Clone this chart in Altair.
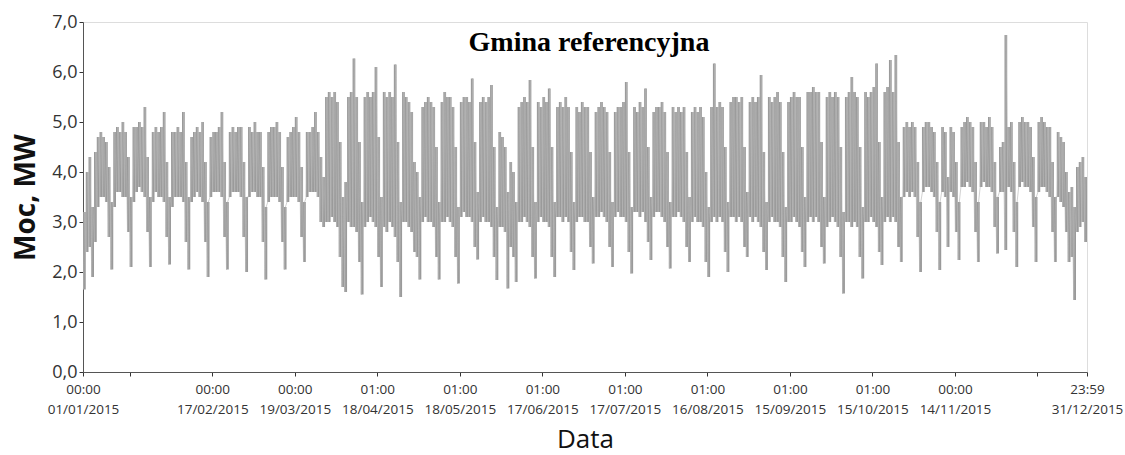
import altair as alt
import pandas as pd

# Daily peak (day-time maximum) load, MW, one row per week Mon..Sun
# (first row: Thu 1 Jan .. Sun 4 Jan, last row: Mon 28 Dec .. Thu 31 Dec)
HI_WEEKS = [
    [3.2, 4.0, 4.3, 3.3],
    [4.4, 4.7, 4.8, 4.7, 4.6, 4.1, 3.4],
    [4.8, 4.9, 4.8, 5.0, 4.8, 4.3, 3.5],
    [4.9, 4.9, 5.0, 4.9, 5.3, 4.3, 3.5],
    [4.8, 4.9, 4.8, 4.9, 5.2, 4.2, 3.5],
    [4.8, 4.8, 4.9, 4.8, 5.2, 4.2, 3.5],
    [4.7, 4.8, 4.9, 4.8, 5.0, 4.2, 3.4],
    [4.7, 4.8, 4.8, 4.9, 5.2, 4.2, 3.4],
    [4.8, 4.9, 4.8, 4.9, 4.9, 4.2, 3.5],
    [4.9, 4.8, 5.0, 4.8, 4.8, 4.1, 3.3],
    [4.8, 4.9, 4.9, 5.0, 4.8, 4.1, 3.3],
    [4.7, 4.8, 4.9, 5.1, 4.8, 4.1, 3.4],
    [4.8, 4.8, 4.9, 5.2, 4.8, 4.3, 3.9],
    [5.5, 5.6, 5.5, 5.6, 5.4, 4.6, 3.5],
    [3.8, 5.5, 5.6, 6.27, 5.5, 4.6, 3.4],
    [5.5, 5.6, 5.5, 5.6, 6.1, 4.7, 3.5],
    [5.6, 5.5, 5.6, 5.5, 6.15, 4.6, 3.4],
    [5.6, 5.5, 5.4, 5.2, 4.2, 4.0, 3.5],
    [5.3, 5.4, 5.5, 5.4, 5.3, 4.5, 3.4],
    [5.4, 5.6, 5.5, 5.5, 5.3, 4.5, 3.3],
    [5.4, 5.5, 5.5, 5.4, 5.87, 4.6, 3.6],
    [5.4, 5.5, 5.4, 5.5, 5.74, 4.5, 3.3],
    [4.8, 4.7, 4.5, 3.6, 4.2, 4.0, 3.4],
    [5.3, 5.4, 5.5, 5.4, 5.84, 4.5, 3.4],
    [5.4, 5.3, 5.5, 5.4, 5.67, 4.5, 3.4],
    [5.3, 5.4, 5.3, 5.5, 5.3, 4.4, 3.4],
    [5.3, 5.2, 5.4, 5.3, 5.3, 4.4, 3.5],
    [5.2, 5.3, 5.4, 5.3, 5.2, 4.4, 3.4],
    [5.2, 5.3, 5.3, 5.4, 5.8, 4.4, 3.3],
    [5.3, 5.2, 5.4, 5.3, 5.67, 4.5, 3.5],
    [5.2, 5.3, 5.3, 5.4, 5.2, 4.4, 3.4],
    [5.3, 5.2, 5.3, 5.2, 5.3, 4.4, 3.5],
    [5.2, 5.3, 5.2, 5.3, 5.1, 4.0, 3.3],
    [5.3, 6.17, 5.3, 5.4, 5.3, 4.5, 3.4],
    [5.4, 5.5, 5.5, 5.4, 5.5, 4.5, 3.6],
    [5.4, 5.5, 5.4, 5.5, 5.94, 4.4, 3.4],
    [5.5, 5.4, 5.5, 5.6, 5.4, 4.4, 3.3],
    [5.4, 5.5, 5.6, 5.5, 5.5, 4.5, 3.5],
    [5.6, 5.6, 5.7, 5.6, 5.6, 4.6, 3.5],
    [5.5, 5.6, 5.5, 5.6, 5.5, 4.5, 3.2],
    [5.5, 5.6, 5.9, 5.6, 5.5, 4.5, 3.3],
    [5.6, 5.5, 5.6, 5.7, 6.17, 4.6, 3.5],
    [5.6, 5.7, 6.24, 5.6, 6.34, 4.6, 3.5],
    [4.9, 5.0, 4.9, 5.0, 4.9, 4.2, 3.4],
    [4.9, 5.0, 5.0, 4.9, 4.8, 4.2, 3.4],
    [4.9, 4.8, 3.9, 4.9, 4.8, 4.2, 3.4],
    [4.9, 5.0, 5.1, 5.0, 4.9, 4.2, 3.4],
    [5.0, 5.0, 4.9, 5.1, 4.9, 4.2, 3.5],
    [4.5, 4.6, 6.74, 4.9, 5.0, 4.2, 3.4],
    [5.0, 5.1, 5.0, 5.0, 4.9, 4.3, 3.5],
    [5.0, 5.1, 5.0, 4.9, 4.9, 4.2, 3.5],
    [4.8, 4.7, 4.6, 4.0, 3.6, 3.7, 3.3],
    [4.1, 4.2, 4.3, 3.9],
]

# Daily night-time minimum load, MW, same layout
LO_WEEKS = [
    [1.65, 2.4, 2.5, 1.9],
    [2.6, 3.3, 3.5, 3.5, 3.4, 2.7, 2.05],
    [3.3, 3.6, 3.6, 3.5, 3.5, 2.8, 2.1],
    [3.4, 3.6, 3.7, 3.6, 3.5, 2.8, 2.1],
    [3.4, 3.6, 3.5, 3.5, 3.4, 2.7, 2.15],
    [3.3, 3.5, 3.5, 3.5, 3.4, 2.6, 2.05],
    [3.4, 3.5, 3.6, 3.5, 3.4, 2.6, 1.9],
    [3.5, 3.6, 3.6, 3.6, 3.5, 2.7, 2.05],
    [3.5, 3.6, 3.6, 3.6, 3.5, 2.7, 2.0],
    [3.5, 3.6, 3.6, 3.5, 3.5, 2.6, 1.85],
    [3.4, 3.5, 3.5, 3.5, 3.4, 2.6, 2.05],
    [3.4, 3.5, 3.5, 3.5, 3.4, 2.7, 2.2],
    [3.5, 3.6, 3.6, 3.6, 3.5, 3.0, 2.9],
    [3.0, 3.0, 3.1, 3.0, 2.9, 2.3, 1.7],
    [1.6, 3.0, 2.9, 2.9, 2.8, 2.2, 1.55],
    [2.9, 3.0, 3.1, 3.0, 2.9, 2.3, 1.7],
    [2.9, 2.8, 3.0, 2.9, 2.7, 2.2, 1.5],
    [3.0, 3.0, 2.9, 2.8, 2.4, 2.3, 1.85],
    [3.0, 3.1, 3.0, 3.0, 2.9, 2.3, 1.85],
    [3.0, 3.0, 3.1, 3.0, 2.9, 2.3, 1.77],
    [3.1, 3.2, 3.1, 3.1, 3.0, 2.5, 2.25],
    [3.0, 3.1, 3.0, 3.0, 2.9, 2.3, 1.84],
    [2.9, 2.9, 2.8, 1.67, 2.5, 2.3, 1.8],
    [3.0, 3.0, 3.1, 3.0, 2.9, 2.3, 1.87],
    [3.0, 3.1, 3.0, 3.0, 2.9, 2.3, 1.9],
    [3.1, 3.1, 3.0, 3.1, 3.0, 2.4, 2.04],
    [3.0, 3.1, 3.1, 3.0, 3.0, 2.5, 2.17],
    [3.1, 3.1, 3.2, 3.1, 3.0, 2.5, 2.1],
    [3.1, 3.2, 3.1, 3.1, 3.0, 2.4, 1.97],
    [3.2, 3.2, 3.1, 3.2, 3.0, 2.6, 2.24],
    [3.1, 3.2, 3.2, 3.1, 3.0, 2.5, 2.07],
    [3.1, 3.1, 3.2, 3.1, 3.0, 2.5, 2.2],
    [3.0, 3.1, 3.0, 3.0, 2.9, 2.2, 1.9],
    [3.0, 3.1, 3.0, 3.1, 3.0, 2.4, 2.0],
    [3.1, 3.1, 3.0, 3.1, 3.0, 2.5, 2.3],
    [3.1, 3.0, 3.1, 3.0, 2.9, 2.4, 2.04],
    [3.0, 3.1, 3.0, 3.0, 2.9, 2.3, 1.8],
    [3.0, 3.0, 3.1, 3.0, 2.9, 2.4, 2.1],
    [3.0, 3.1, 3.0, 3.1, 3.0, 2.5, 2.17],
    [2.9, 3.0, 3.1, 3.0, 2.9, 2.3, 1.57],
    [3.0, 3.0, 2.9, 3.0, 2.9, 2.3, 1.87],
    [3.0, 3.0, 3.1, 3.0, 2.9, 2.4, 2.14],
    [3.0, 3.1, 3.0, 3.1, 3.0, 2.5, 2.2],
    [3.5, 3.6, 3.5, 3.6, 3.5, 2.7, 2.0],
    [3.6, 3.7, 3.7, 3.6, 3.5, 2.8, 2.04],
    [3.6, 3.5, 2.5, 3.6, 3.5, 2.8, 2.24],
    [3.7, 3.7, 3.8, 3.7, 3.6, 2.8, 2.2],
    [3.7, 3.8, 3.7, 3.7, 3.6, 2.9, 2.37],
    [3.6, 3.6, 2.44, 3.7, 3.6, 2.8, 2.1],
    [3.7, 3.8, 3.7, 3.7, 3.6, 2.9, 2.2],
    [3.6, 3.7, 3.7, 3.6, 3.5, 2.8, 2.2],
    [3.5, 3.4, 3.3, 2.8, 2.2, 2.3, 1.44],
    [2.8, 2.9, 3.0, 2.6],
]

Y_TICKS = [0, 1, 2, 3, 4, 5, 6, 7]
X_TICK_DAYS = [0, 17, 47, 77, 107, 137, 167, 197, 227, 257, 287, 317, 347, 365]
X_TICK_TIME = ["00:00", "", "00:00", "00:00", "01:00", "01:00", "01:00",
               "01:00", "01:00", "01:00", "01:00", "00:00", "", "23:59"]
X_TICK_DATE = ["01/01/2015", "", "17/02/2015", "19/03/2015", "18/04/2015",
               "18/05/2015", "17/06/2015", "17/07/2015", "16/08/2015",
               "15/09/2015", "15/10/2015", "14/11/2015", "", "31/12/2015"]
TITLE = "Gmina referencyjna"

hi = [v for w in HI_WEEKS for v in w]
lo = [v for w in LO_WEEKS for v in w]

rows = []
bars = []
for d, (a, b) in enumerate(zip(lo, hi)):
    rows.append({"h": d * 24 + 4, "v": a})
    rows.append({"h": d * 24 + 14, "v": b})
    bars.append({"h0": d * 24, "h1": d * 24 + 24, "lo": a, "hi": b})
df = pd.DataFrame(rows)
dfb = pd.DataFrame(bars)

tick_hours = [d * 24 for d in X_TICK_DAYS]
lab_arr = "[" + ",".join(f"['{t}','{dt}']" for t, dt in zip(X_TICK_TIME, X_TICK_DATE)) + "]"
x_label_expr = f"{lab_arr}[indexof([{','.join(str(h) for h in tick_hours)}], datum.value)]"

x_scale = alt.Scale(domain=[0, 8760], nice=False, zero=False)
y_scale = alt.Scale(domain=[0, 7], nice=False)

x_axis = alt.Axis(values=tick_hours, labelExpr=x_label_expr, title="Data",
                  grid=False, tickSize=4, tickColor="#333", domainColor="#555",
                  labelFont="Open Sans", labelFontSize=13.5, labelColor="#333",
                  labelLineHeight=20, labelPadding=6, labelOverlap=False,
                  labelFlush=False, labelBaseline="top",
                  titleFont="Open Sans", titleFontSize=26, titleFontWeight="normal",
                  titleColor="#111", titlePadding=11)
y_axis = alt.Axis(values=Y_TICKS,
                  labelExpr="replace(format(datum.value, '.1f'), '.', ',')",
                  title="Moc, MW", grid=False, tickSize=4, tickColor="#333",
                  domainColor="#555",
                  labelFont="Open Sans", labelFontSize=18, labelColor="#333",
                  labelPadding=2,
                  titleFont="Open Sans", titleFontSize=28, titleFontWeight="bold",
                  titleColor="#111", titlePadding=11)

band = alt.Chart(dfb).mark_rect(color="#9a9a9a").encode(
    x=alt.X("h0:Q", scale=x_scale, axis=x_axis),
    x2="h1:Q",
    y=alt.Y("lo:Q", scale=y_scale, axis=y_axis),
    y2="hi:Q",
)

line = alt.Chart(df).mark_line(color="#b4b4b4", strokeWidth=0.6).encode(
    x=alt.X("h:Q", scale=x_scale),
    y=alt.Y("v:Q", scale=y_scale),
)

title = alt.Chart(pd.DataFrame({"t": [TITLE]})).mark_text(
    font="Liberation Serif", fontSize=28, fontWeight="bold", color="#000",
    align="center", baseline="alphabetic"
).encode(text="t:N", x=alt.value(506), y=alt.value(29))

chart = alt.layer(band, line, title).properties(
    width=1004, height=350,
    autosize=alt.AutoSizeParams(type="none"),
    padding={"left": 83, "top": 22, "right": 38, "bottom": 83},
).configure_view(stroke="#555", strokeWidth=1).configure(background="white")

chart.save("out.html", embed_options={"renderer": "svg", "actions": False})
